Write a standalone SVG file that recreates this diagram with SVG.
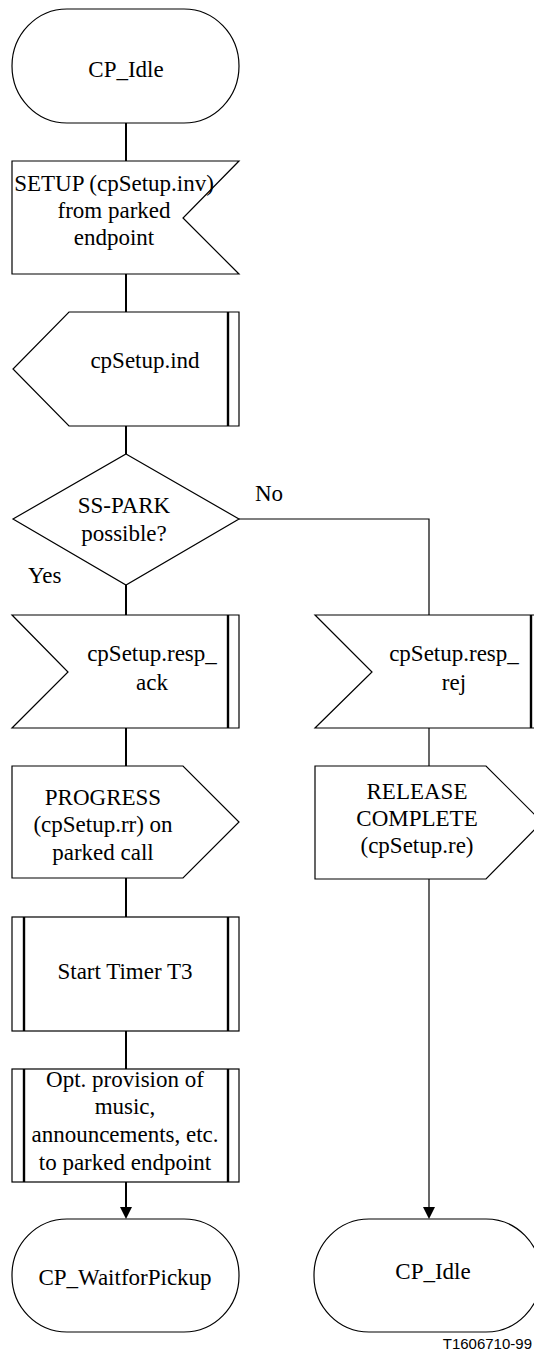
<svg xmlns="http://www.w3.org/2000/svg" width="534" height="1353" viewBox="0 0 534 1353">
<style>
.s{fill:#fff;stroke:#000;stroke-width:1.2}
.bar{stroke:#000;stroke-width:2.4}
.t{font-family:"Liberation Serif","Times New Roman",serif;font-size:23px;fill:#000;text-anchor:middle}
.tl{font-family:"Liberation Serif","Times New Roman",serif;font-size:23px;fill:#000}
.c2{fill:none;stroke:#000;stroke-width:2}
.c1{fill:none;stroke:#000;stroke-width:1.2}
.lbl{font-family:"Liberation Sans",Arial,sans-serif;font-size:15px;fill:#000;text-anchor:end}
</style>
<defs>
<marker id="ah" markerUnits="userSpaceOnUse" markerWidth="12" markerHeight="12" viewBox="0 0 12 12" refX="3" refY="6" orient="auto">
<path d="M0,0 L12,6 L0,12 z" fill="#000"/>
</marker>
</defs>
<rect width="534" height="1353" fill="#fff"/>
<g id="connectors">
<line class="c2" x1="126" y1="123" x2="126" y2="161"/>
<line class="c2" x1="126" y1="274" x2="126" y2="312"/>
<line class="c2" x1="126" y1="426" x2="126" y2="454"/>
<line class="c2" x1="126" y1="585" x2="126" y2="615"/>
<polyline class="c1" points="239,519 429,519 429,615"/>
<line class="c2" x1="126" y1="728" x2="126" y2="766"/>
<line class="c1" x1="429" y1="728" x2="429" y2="766"/>
<line class="c2" x1="126" y1="878" x2="126" y2="917"/>
<line class="c1" x1="429" y1="879" x2="429" y2="1210" marker-end="url(#ah)"/>
<line class="c2" x1="126" y1="1031" x2="126" y2="1069"/>
<line class="c2" x1="126" y1="1182" x2="126" y2="1210" marker-end="url(#ah)"/>
<text class="tl" x="28" y="583">Yes</text>
<text class="tl" x="255" y="501">No</text>
</g>
<g id="n_idle_top">
<rect class="s" x="12" y="9" width="227" height="114" rx="55" ry="57"/>
<text class="t" x="126" y="77">CP_Idle</text>
</g>
<g id="n_setup">
<polygon class="s" points="12,161 239,161 183,218 239,274 12,274"/>
<text class="t" x="114" y="191">SETUP (cpSetup.inv)</text>
<text class="t" x="114" y="218">from parked</text>
<text class="t" x="114" y="245">endpoint</text>
</g>
<g id="n_ind">
<polygon class="s" points="69,312 239,312 239,426 69,426 13,369"/>
<line class="bar" x1="228" y1="312" x2="228" y2="426"/>
<text class="t" x="145" y="368">cpSetup.ind</text>
</g>
<g id="n_decision">
<polygon class="s" points="126,454 239,519 126,585 13,519"/>
<text class="t" x="124" y="513">SS-PARK</text>
<text class="t" x="124" y="541">possible?</text>
</g>
<g id="n_ack">
<polygon class="s" points="12,615 239,615 239,728 12,728 68,672"/>
<line class="bar" x1="228" y1="615" x2="228" y2="728"/>
<text class="t" x="152" y="661">cpSetup.resp_</text>
<text class="t" x="152" y="690">ack</text>
</g>
<g id="n_rej">
<polygon class="s" points="315,615 542,615 542,728 315,728 372,672"/>
<line class="bar" x1="531" y1="615" x2="531" y2="728"/>
<text class="t" x="454" y="661">cpSetup.resp_</text>
<text class="t" x="454" y="690">rej</text>
</g>
<g id="n_progress">
<polygon class="s" points="12,766 183,766 239,822 183,878 12,878"/>
<text class="t" x="103" y="805">PROGRESS</text>
<text class="t" x="103" y="832">(cpSetup.rr) on</text>
<text class="t" x="103" y="860">parked call</text>
</g>
<g id="n_release">
<polygon class="s" points="315,766 486,766 542,822 486,879 315,879"/>
<text class="t" x="417" y="799">RELEASE</text>
<text class="t" x="417" y="826">COMPLETE</text>
<text class="t" x="417" y="853">(cpSetup.re)</text>
</g>
<g id="n_timer">
<rect class="s" x="12" y="917" width="227" height="114"/>
<line class="bar" x1="24" y1="917" x2="24" y2="1031"/>
<line class="bar" x1="228" y1="917" x2="228" y2="1031"/>
<text class="t" x="125" y="979">Start Timer T3</text>
</g>
<g id="n_music">
<rect class="s" x="12" y="1069" width="227" height="113"/>
<line class="bar" x1="24" y1="1069" x2="24" y2="1182"/>
<line class="bar" x1="228" y1="1069" x2="228" y2="1182"/>
<text class="t" x="125" y="1087">Opt. provision of</text>
<text class="t" x="125" y="1114">music,</text>
<text class="t" x="125" y="1142">announcements, etc.</text>
<text class="t" x="125" y="1170">to parked endpoint</text>
</g>
<g id="n_wait">
<rect class="s" x="12" y="1219" width="227" height="113" rx="55" ry="56"/>
<text class="t" x="125" y="1285">CP_WaitforPickup</text>
</g>
<g id="n_idle_bottom">
<rect class="s" x="314" y="1219" width="227" height="113" rx="55" ry="56"/>
<text class="t" x="433" y="1279">CP_Idle</text>
</g>
<text class="lbl" x="532" y="1349">T1606710-99</text>
</svg>
